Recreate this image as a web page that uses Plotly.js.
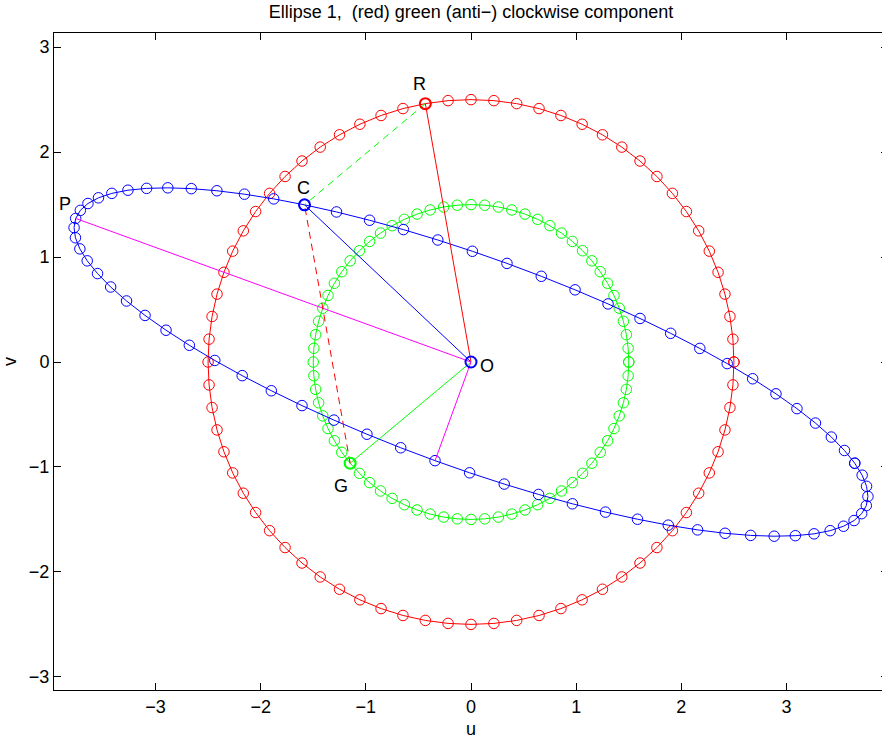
<!DOCTYPE html>
<html>
<head>
<meta charset="utf-8">
<script src="https://cdn.plot.ly/plotly-3.0.1.min.js"></script>
<style>
  html, body { margin: 0; padding: 0; overflow: hidden; background: #fff; }
  #chart { width: 888px; height: 748px; }
</style>
</head>
<body>
<div id="chart"></div>
<script>
// ---- data ----
// marker angles (degrees) used along both rotating components
const angleDeg = [0,5,10,15,20,25,30,35,40,45,50,55,60,65,70,75,80,85,90,95,100,105,110,115,
  120,125,130,135,140,145,150,155,160,165,170,175,180,185,190,195,200,205,210,215,220,225,230,235,
  240,245,250,255,260,265,270,275,280,285,290,295,300,305,310,315,320,325,330,335,340,345,350,355];
const redRadius = 2.5;      // clockwise component
const greenRadius = 1.5;    // anticlockwise component
const angleSumDeg = 320;    // red angle + green angle for every ellipse point
const redNowDeg = 100;      // current red phase  (point R)
const greenNowDeg = 220;    // current green phase (point G)
const majorAxis = { angleDeg: 160, length: 4 };   // O -> P
const minorAxis = { angleDeg: 250, length: 1 };   // O -> minor end

const labelText = ['R', 'C', 'P', 'O', 'G'];
const labelU = [-0.493, -1.588, -3.86, 0.151, -1.236];
const labelV = [2.65, 1.66, 1.503, -0.042, -1.185];

const xTicks = [-3, -2, -1, 0, 1, 2, 3];
const yTicks = [-3, -2, -1, 0, 1, 2, 3];

// ---- build traces ----
const rad = d => d * Math.PI / 180;
const pol = (r, d) => [r * Math.cos(rad(d)), r * Math.sin(rad(d))];

const closed = angleDeg.concat([angleDeg[0]]);
const redPts = closed.map(d => pol(redRadius, d));
const greenPts = closed.map(d => pol(greenRadius, d));
const bluePts = closed.map(d => {
  const a = pol(redRadius, d), b = pol(greenRadius, angleSumDeg - d);
  return [a[0] + b[0], a[1] + b[1]];
});

const R = pol(redRadius, redNowDeg);
const G = pol(greenRadius, greenNowDeg);
const C = [R[0] + G[0], R[1] + G[1]];
const P = pol(majorAxis.length, majorAxis.angleDeg);
const M = pol(minorAxis.length, minorAxis.angleDeg);
const O = [0, 0];

const RED = 'rgb(255,0,0)', GREEN = 'rgb(0,255,0)', BLUE = 'rgb(0,0,255)', MAG = 'rgb(255,0,255)';
const mk = (c, w, s) => ({ symbol: 'circle-open', size: s, color: c, line: { color: c, width: w } });

function curve(pts, color) {
  return { type: 'scatter', mode: 'lines+markers', x: pts.map(p => p[0]), y: pts.map(p => p[1]),
    line: { color: color, width: 1 }, marker: mk(color, 1, 10.5), hoverinfo: 'skip' };
}
function seg(a, b, color, dash) {
  return { type: 'scatter', mode: 'lines', x: [a[0], b[0]], y: [a[1], b[1]],
    line: { color: color, width: 1, dash: dash || 'solid' }, hoverinfo: 'skip' };
}
function dot(p, color) {
  return { type: 'scatter', mode: 'markers', x: [p[0]], y: [p[1]], marker: mk(color, 2, 11), hoverinfo: 'skip' };
}

const traces = [
  curve(redPts, RED),
  curve(greenPts, GREEN),
  curve(bluePts, BLUE),
  seg(O, R, RED),
  seg(O, G, GREEN),
  seg(O, C, BLUE),
  seg(O, P, MAG),
  seg(O, M, MAG),
  seg(R, C, GREEN, '7px,5px'),
  seg(G, C, RED, '7px,5px'),
  dot(R, RED),
  dot(C, BLUE),
  dot(G, GREEN),
  dot(O, BLUE)
];

const FONT = 'Liberation Sans, Arial, Helvetica, sans-serif';
const axisCommon = {
  showline: true, linecolor: '#000', linewidth: 1, mirror: 'ticks',
  ticks: 'inside', ticklen: 7, tickwidth: 1, tickcolor: '#000',
  showgrid: false, zeroline: false, automargin: false,
  tickfont: { family: FONT, size: 18, color: '#000' }
};

const layout = {
  width: 888, height: 748,
  margin: { l: 54, r: 0, t: 33, b: 58 },
  paper_bgcolor: '#fff', plot_bgcolor: '#fff',
  showlegend: false,
  font: { family: FONT, size: 18, color: '#000' },
  title: { text: 'Ellipse 1,  (red) green (anti\u2212) clockwise component',
    font: { family: FONT, size: 18, color: '#000' },
    x: 0.5, xref: 'paper', xanchor: 'center', y: 1 - 12 / 748, yref: 'container', yanchor: 'middle' },
  xaxis: Object.assign({}, axisCommon, { range: [-3.965, 3.965], tickvals: xTicks,
    title: { text: 'u', font: { family: FONT, size: 18, color: '#000' }, standoff: 6 } }),
  yaxis: Object.assign({}, axisCommon, { range: [-3.125, 3.135], tickvals: yTicks,
    title: { text: 'v', font: { family: FONT, size: 18, color: '#000' }, standoff: 7 } }),
  annotations: labelText.map((t, i) => ({ text: t, x: labelU[i], y: labelV[i], xref: 'x', yref: 'y',
    showarrow: false, xanchor: 'center', yanchor: 'middle', font: { family: FONT, size: 18, color: '#000' } }))
};

Plotly.newPlot('chart', traces, layout, { displayModeBar: false, staticPlot: true });
</script>
</body>
</html>
